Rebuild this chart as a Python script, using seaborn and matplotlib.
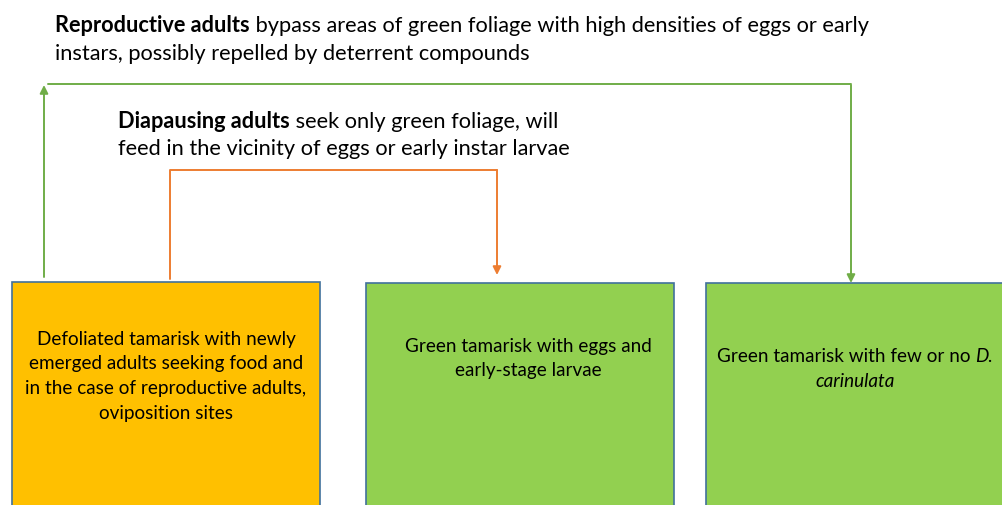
import matplotlib
matplotlib.use("Agg")
import matplotlib.pyplot as plt
import seaborn as sns
from matplotlib.patches import Rectangle

# boxes (pixel space, y grows downward)
box_left = [12, 366, 706]
box_right = [320, 674, 1012]
box_top = [283, 284, 284]
box_colors = ["#FFC000", "#92D050", "#92D050"]
box_text_x = [166, 528, 855]
box_baselines = [
    [345, 369, 394, 419],
    [352, 376],
    [362, 387],
]
box_lines = [
    [[("Defoliated tamarisk with newly", "normal")],
     [("emerged adults seeking food and", "normal")],
     [("in the case of reproductive adults,", "normal")],
     [("oviposition sites", "normal")]],
    [[("Green tamarisk with eggs and", "normal")],
     [("early-stage larvae", "normal")]],
    [[("Green tamarisk with few or no ", "normal"), ("D.", "italic")],
     [("carinulata", "italic")]],
]

# captions above the boxes
caption_x = [55, 118]
caption_baselines = [[32, 60], [128, 155]]
caption_lines = [
    [[("Reproductive adults", "bold"),
      (" bypass areas of green foliage with high densities of eggs or early", "normal")],
     [("instars, possibly repelled by deterrent compounds", "normal")]],
    [[("Diapausing adults", "bold"), (" seek only green foliage, will", "normal")],
     [("feed in the vicinity of eggs or early instar larvae", "normal")]],
]

# connector paths
green_up_x, green_up_y = [44, 44], [278, 86]
green_top_x, green_top_y = [48, 851], [85, 85]
green_down_x, green_down_y = [851, 851], [86, 284]
orange_x, orange_y = [170, 170, 497, 497], [280, 171, 171, 276]

GREEN = "#70AD47"
ORANGE = "#ED7D31"
EDGE = "#41719C"

sns.set_theme(style="white")
plt.rcParams["font.family"] = ["Lato", "DejaVu Sans"]

fig = plt.figure(figsize=(10.02, 5.06), dpi=100)
ax = fig.add_axes([0, 0, 1, 1])
ax.set_xlim(0, 1002)
ax.set_ylim(506, 0)
ax.axis("off")
renderer = fig.canvas.get_renderer()


def draw_segments(x, y, segments, size, align="left"):
    texts = []
    for txt, style in segments:
        t = ax.text(0, y, txt, fontsize=size, va="baseline", ha="left",
                    fontweight="bold" if style == "bold" else "normal",
                    fontstyle="italic" if style == "italic" else "normal",
                    color="black")
        texts.append(t)
    widths = [t.get_window_extent(renderer).width for t in texts]
    total = sum(widths)
    cur = x - total / 2 if align == "center" else x
    for t, w in zip(texts, widths):
        t.set_x(cur)
        cur += w


for i in range(len(box_left)):
    ax.add_patch(Rectangle((box_left[i], box_top[i]),
                           box_right[i] - box_left[i], 300,
                           facecolor=box_colors[i], edgecolor=EDGE, lw=1.2))
    for segs, yb in zip(box_lines[i], box_baselines[i]):
        draw_segments(box_text_x[i], yb, segs, 13.6, align="center")

for i in range(len(caption_x)):
    for segs, yb in zip(caption_lines[i], caption_baselines[i]):
        draw_segments(caption_x[i], yb, segs, 15.7)

arrow = dict(arrowstyle="-|>", lw=1.4, mutation_scale=12, shrinkA=0, shrinkB=0)

ax.annotate("", xy=(green_up_x[1], green_up_y[1]), xytext=(green_up_x[0], green_up_y[0]),
            arrowprops=dict(arrow, color=GREEN))
ax.plot(green_top_x, green_top_y, color=GREEN, lw=1.4)
ax.annotate("", xy=(green_down_x[1], green_down_y[1]), xytext=(green_down_x[0], green_down_y[0]),
            arrowprops=dict(arrow, color=GREEN))

ax.plot(orange_x[:3], orange_y[:3], color=ORANGE, lw=1.4)
ax.annotate("", xy=(orange_x[3], orange_y[3]), xytext=(orange_x[2], orange_y[2]),
            arrowprops=dict(arrow, color=ORANGE))

fig.savefig("out.png", dpi=100, facecolor="white")
